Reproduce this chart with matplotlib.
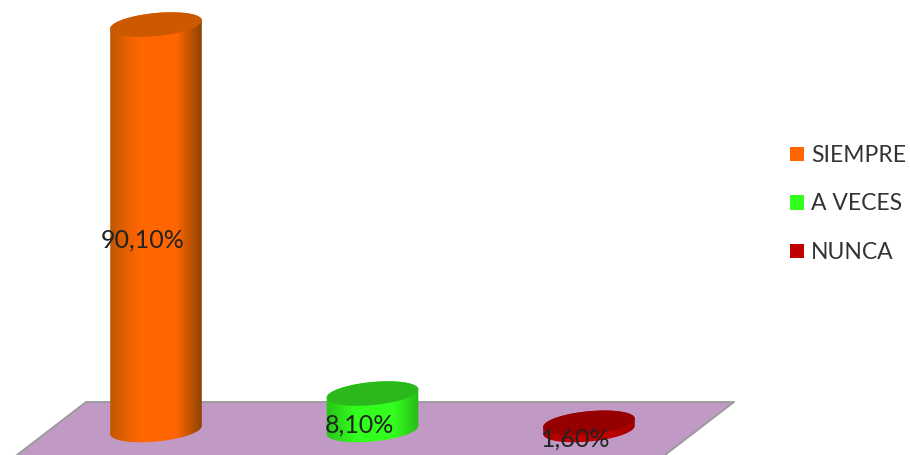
"""Three 3D-look cylinders on a purple floor, drawn on a flat axes."""
import matplotlib

matplotlib.use("Agg")
import matplotlib.pyplot as plt
import numpy as np
from matplotlib.colors import LinearSegmentedColormap
from matplotlib.patches import Patch, PathPatch, Polygon
from matplotlib.path import Path
from matplotlib.transforms import Affine2D

categories = ["SIEMPRE", "A VECES", "NUNCA"]
values = [90.1, 8.1, 1.6]
value_labels = ["90,10%", "8,10%", "1,60%"]

legend_colors = ["#ff6600", "#33ff1e", "#c00000"]
top_colors = ["#cc5800", "#2bb81a", "#960000"]
left_colors = ["#c05800", "#28c416", "#a80000"]
right_colors = ["#8a4200", "#26b815", "#a00000"]

W, H = 910, 455
PX_CAT = 216.5      # pixels between two categories
PX_VAL = 4.5        # pixels per percent
X0, Y0 = 156, 430   # pixel position of first category, value 0
RX, RY = 46, 11.5   # ellipse radii, px
TILT = np.deg2rad(5.5)

plt.rcParams["font.family"] = ["Lato", "DejaVu Sans"]

fig = plt.figure(figsize=(W / 100, H / 100), dpi=100)
ax = fig.add_axes([0, 0, 1, 1])
ax.set_xlim(-X0 / PX_CAT, (W - X0) / PX_CAT)
ax.set_ylim(-(H - Y0) / PX_VAL, Y0 / PX_VAL)
ax.axis("off")

# floor, in pixels from the top left
px = Affine2D().scale(1, -1).translate(0, H)
ax.add_patch(Polygon([(86, 402), (734, 402), (665, 455), (17, 455)], closed=True,
                     facecolor="#c09ac4", edgecolor="none", transform=px, zorder=1))
ax.plot([17, 86, 734, 665], [455, 402, 402, 455], color="#9a9a9a", lw=1.3,
        transform=px, zorder=1.5, clip_on=False)


def ellipse(i, v, t):
    # point on the tilted ellipse, back in data units
    dx = RX * np.cos(t) * np.cos(TILT) - RY * np.sin(t) * np.sin(TILT)
    dy = RX * np.cos(t) * np.sin(TILT) + RY * np.sin(t) * np.cos(TILT)
    return i + dx / PX_CAT, v + dy / PX_VAL


for i, v in enumerate(values):
    # body: top half-way round, then the lower half of the base
    t_top = np.linspace(0, np.pi, 60)
    t_low = np.linspace(np.pi, 2 * np.pi, 60)
    tx, ty = ellipse(i, v, t_top)
    bx, by = ellipse(i, 0, t_low)
    verts = np.column_stack([np.r_[tx, bx], np.r_[ty, by]])
    body = PathPatch(Path(np.vstack([verts, verts[:1]])), facecolor="none",
                     edgecolor="none", transform=ax.transData)
    ax.add_patch(body)

    cmap = LinearSegmentedColormap.from_list(
        f"c{i}", [(0, left_colors[i]), (0.32, legend_colors[i]),
                  (0.72, legend_colors[i]), (1, right_colors[i])])
    im = ax.imshow(np.linspace(0, 1, 200)[None, :], cmap=cmap, aspect="auto",
                   extent=[i - 0.215, i + 0.215, -6, v + 6], zorder=2)
    im.set_clip_path(body)

    cx, cy = ellipse(i, v, np.linspace(0, 2 * np.pi, 120))
    ax.fill(cx, cy, color=top_colors[i], lw=0, zorder=3)

    ax.annotate(value_labels[i], (i, v / 2), xytext=(-13, -13),
                textcoords="offset pixels", ha="center", va="center",
                fontsize=18, color="#222222", zorder=5, annotation_clip=False)

# reset after imshow, which changes the limits
ax.set_xlim(-X0 / PX_CAT, (W - X0) / PX_CAT)
ax.set_ylim(-(H - Y0) / PX_VAL, Y0 / PX_VAL)

handles = [Patch(facecolor=c, label=n) for c, n in zip(legend_colors, categories)]
ax.legend(handles=handles, loc="center left", bbox_to_anchor=(790 / W, 1 - 204 / H),
          frameon=False, fontsize=16.5, labelcolor="#333333", handlelength=0.62,
          handleheight=0.62, handletextpad=0.3, labelspacing=1.2, borderpad=0,
          borderaxespad=0)

fig.savefig("out.png", dpi=100)
plt.close(fig)
